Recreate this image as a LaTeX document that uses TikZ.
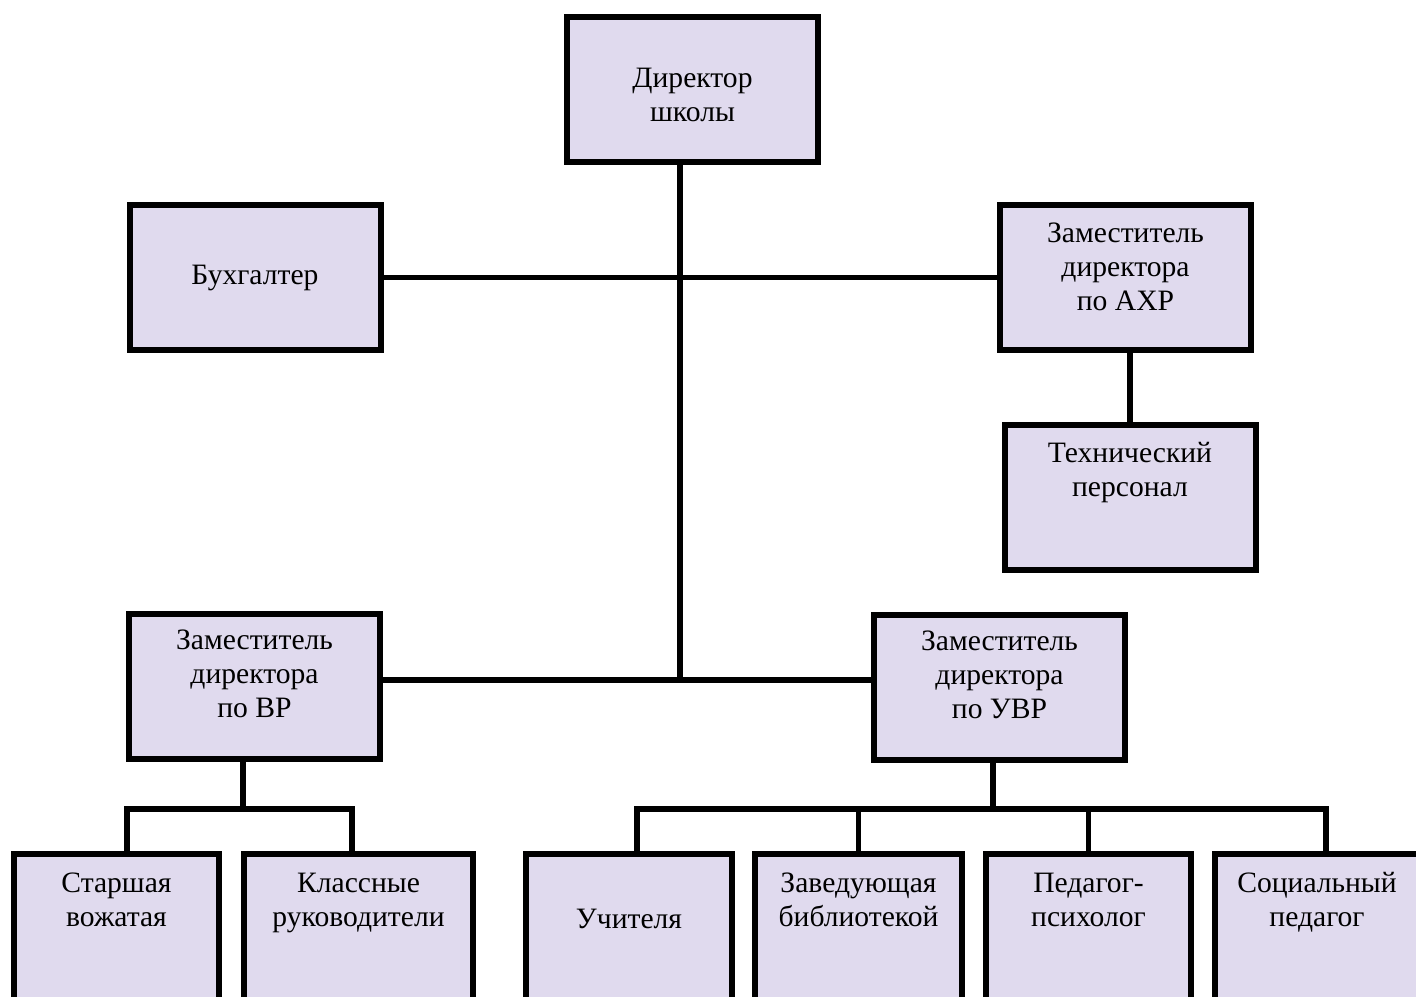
\documentclass[tikz,border=0pt]{standalone}
\usepackage{fontspec}
\setmainfont{Liberation Serif}
\definecolor{boxfill}{RGB}{224,218,238}
\begin{document}
\begin{tikzpicture}[x=0.5pt, y=-0.5pt,
	box/.style={draw=black, line width=3pt, fill=boxfill, minimum width=125.5pt, minimum height=72.5pt, inner sep=2pt, font=\fontsize{14.8}{17}\selectfont},
	lowbox/.style={box, minimum height=75pt},
	link/.style={line width=2.6pt}]
		\useasboundingbox (0,0) rectangle (1416,996);
		\clip (0,0) rectangle (1416,996);
		% top level
		\node[box, text depth=4.5pt](dir) at (692.5,89){\begin{tabular}{c}Директор\\ школы\end{tabular}};
		\node[box](buh) at (255,277.5){\begin{tabular}{c}Бухгалтер\end{tabular}};
		\node[box, text depth=30pt](ahr) at (1125.5,277.5){\begin{tabular}{c}Заместитель\\ директора\\ по АХР\end{tabular}};
		\node[box, text depth=38pt](tech) at (1130,497.5){\begin{tabular}{c}Технический\\ персонал\end{tabular}};
		\node[box, text depth=31.5pt](vr) at (254.5,686.5){\begin{tabular}{c}Заместитель\\ директора\\ по ВР\end{tabular}};
		\node[box, text depth=31.5pt](uvr) at (999.5,687.5){\begin{tabular}{c}Заместитель\\ директора\\ по УВР\end{tabular}};
		% bottom row
		\node[lowbox, minimum width=102.5pt, text depth=40pt](starsh) at (116.5,929){\begin{tabular}{c}Старшая\\ вожатая\end{tabular}};
		\node[lowbox, minimum width=114.5pt, text depth=40pt](klass) at (358.5,929){\begin{tabular}{c}Классные\\ руководители\end{tabular}};
		\node[lowbox, minimum width=103pt, text depth=12pt](uchit) at (629,929){\begin{tabular}{c}Учителя\end{tabular}};
		\node[lowbox, minimum width=103.5pt, text depth=40pt](zaved) at (858.5,929){\begin{tabular}{c}Заведующая\\ библиотекой\end{tabular}};
		\node[lowbox, minimum width=102.5pt, text depth=40pt](psych) at (1088.5,929){\begin{tabular}{c}Педагог-\\ психолог\end{tabular}};
		\node[lowbox, minimum width=102pt, text depth=40pt](soc) at (1317,929){\begin{tabular}{c}Социальный\\ педагог\end{tabular}};
		\coordinate(hub) at (680,680);
		\coordinate(vrbar) at (243,809);
		\coordinate(uvrbar) at (993,809);
		% connectors
		\draw[link] (dir.south -| hub) -- (hub);
		\draw[link] (buh.east) -- (ahr.west);
		\draw[link] (vr.east |- hub) -- (uvr.west |- hub);
		\draw[link] (ahr.south -| tech.north) -- (tech.north);
		\draw[link] (vr.south -| vrbar) -- (vrbar);
		\draw[link] ([xshift=5.25pt]starsh.north) |- (vrbar) -| ([xshift=-3.25pt]klass.north);
		\draw[link] (uvr.south -| uvrbar) -- (uvrbar);
		\draw[link] ([xshift=4pt]uchit.north) |- (uvrbar) -| ([xshift=4.5pt]soc.north);
		\draw[link] (zaved.north |- uvrbar) -- (zaved.north);
		\draw[link] (psych.north |- uvrbar) -- (psych.north);
	\end{tikzpicture}
\end{document}
